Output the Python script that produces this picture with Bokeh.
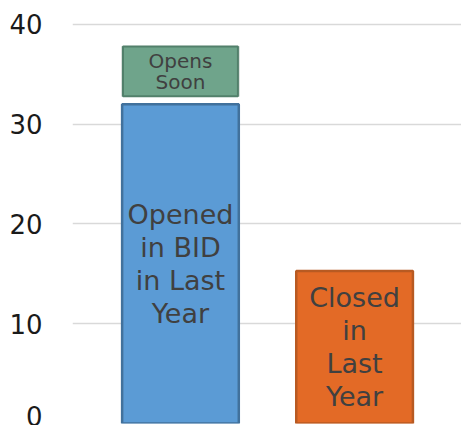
from bokeh.plotting import figure
from bokeh.models import ColumnDataSource, Range1d, FixedTicker
from bokeh.core.properties import value
from bokeh.embed import file_html
from bokeh.resources import INLINE

categories = ["Opened in BID in Last Year", "Closed in Last Year"]
bar_labels = ["Opened\nin BID\nin Last\nYear", "Closed\nin\nLast\nYear"]
bar_values = [32, 15.3]
bar_fill = ["#5B9BD5", "#E36A26"]
bar_line = ["#41719C", "#B85A22"]

soon_label = "Opens\nSoon"
soon_gap = 0.8
soon_value = 5

y_ticks = [0, 10, 20, 30, 40]

FONT = "DejaVu Sans"

xs = list(range(1, len(categories) + 1))

p = figure(width=461, height=425, output_backend="svg", toolbar_location=None,
           x_range=Range1d(0.38, 2.614), y_range=Range1d(0, 40.2),
           min_border_left=72, min_border_right=0, min_border_top=22,
           min_border_bottom=2)
p.outline_line_color = None
p.xaxis.visible = False
p.xgrid.visible = False
p.ygrid.grid_line_color = "#D9D9D9"
p.ygrid.grid_line_width = 1.5
p.yaxis.ticker = FixedTicker(ticks=y_ticks)
p.yaxis.axis_line_color = None
p.yaxis.major_tick_line_color = None
p.yaxis.minor_tick_line_color = None
p.yaxis.major_label_standoff = 24
p.yaxis.major_label_text_font = FONT
p.yaxis.major_label_text_font_size = "26px"
p.yaxis.major_label_text_color = "#1A1A1A"

src = ColumnDataSource(dict(x=xs, top=bar_values, fill=bar_fill, line=bar_line,
                            label=bar_labels, mid=[v / 2 for v in bar_values]))
p.vbar(x="x", top="top", bottom=0, width=0.67, source=src,
       fill_color="fill", line_color="line", line_width=2.5)
p.text(x="x", y="mid", text="label", source=src, text_align="center",
       text_baseline="middle", text_font=value(FONT), text_font_size="27px",
       text_color="#404040", text_line_height=1.07)

soon_bottom = bar_values[0] + soon_gap
soon_top = soon_bottom + soon_value
ssrc = ColumnDataSource(dict(x=[xs[0]], top=[soon_top], bottom=[soon_bottom],
                             mid=[(soon_top + soon_bottom) / 2], label=[soon_label]))
p.vbar(x="x", top="top", bottom="bottom", width=0.675, source=ssrc,
       fill_color=None, line_color="#D0D8D4", line_width=1)
p.vbar(x="x", top="top", bottom="bottom", width=0.66, source=ssrc,
       fill_color="#6FA48B", line_color="#52806B", line_width=2)
p.text(x="x", y="mid", text="label", source=ssrc, text_align="center",
       text_baseline="middle", text_font=value(FONT), text_font_size="20px",
       text_color="#404040", text_line_height=0.9)

open("out.html", "w").write(file_html(p, INLINE))
